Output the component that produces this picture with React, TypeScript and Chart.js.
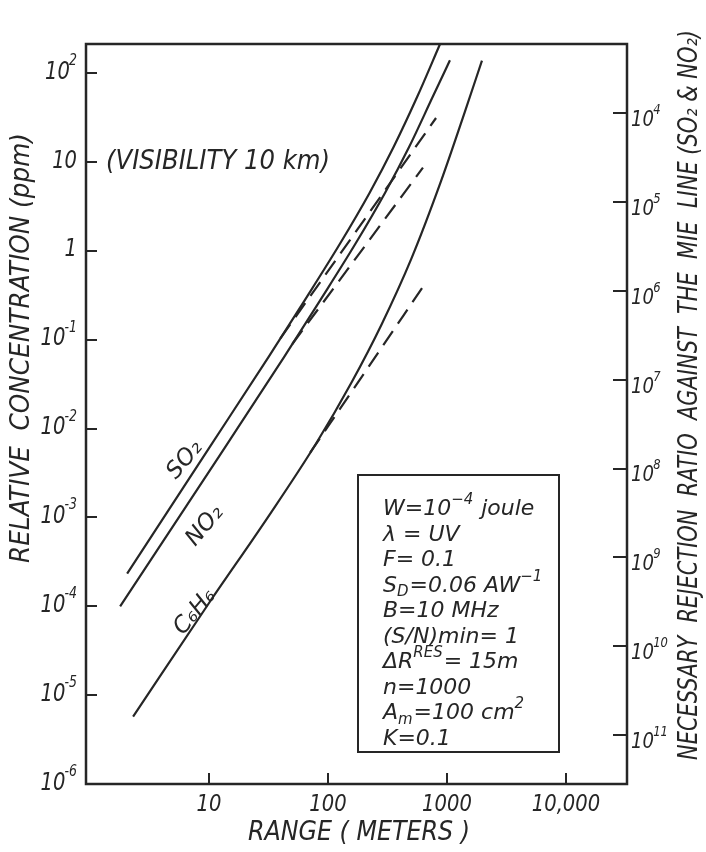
import React, { useEffect, useRef } from 'react';
import { Chart, registerables } from 'chart.js';

Chart.register(...registerables);

const INK = '#262626';
const FONT = '"DejaVu Sans", "Liberation Sans", sans-serif';

// ---- axis ticks ----
const X_TICKS = [10, 100, 1000, 10000];
const X_TICK_LABELS = ['10', '100', '1000', '10,000'];
const Y_TICKS = [1e-6, 1e-5, 1e-4, 1e-3, 1e-2, 1e-1, 1, 10, 100];
const Y_TICK_LABELS = ['10⁻⁶', '10⁻⁵', '10⁻⁴', '10⁻³', '10⁻²', '10⁻¹', '1', '10', '10²'];
const R_TICKS = [1e4, 1e5, 1e6, 1e7, 1e8, 1e9, 1e10, 1e11];
const R_TICK_LABELS = ['10⁴', '10⁵', '10⁶', '10⁷', '10⁸', '10⁹', '10¹⁰', '10¹¹'];

// ---- series (range in meters, relative concentration in ppm) ----
const SO2_RANGE = [2.05, 10, 31.6, 63.1, 126, 224, 355, 562, 871];
const SO2_CONC = [2.34e-4, 6.04e-3, 0.064, 0.273, 1.205, 4.53, 14.7, 54.4, 211];
const NO2_RANGE = [1.79, 13.5, 42.7, 85.1, 170, 302, 479, 759, 1059];
const NO2_CONC = [1.0e-4, 6.04e-3, 0.064, 0.273, 1.205, 4.53, 14.7, 54.4, 140];
const C6H6_RANGE = [2.3, 10, 31.6, 79.4, 158, 282, 501, 891, 1413, 1968];
const C6H6_CONC = [5.75e-6, 1.09e-4, 1.03e-3, 6.81e-3, 0.0333, 0.149, 0.815, 6.11, 36.8, 139];

// dashed (without Mie attenuation)
const SO2_DASH_RANGE = [39.8, 178, 809];
const SO2_DASH_CONC = [0.104, 1.77, 31.4];
const NO2_DASH_RANGE = [50.1, 178, 628];
const NO2_DASH_CONC = [0.0897, 0.887, 8.69];
const C6H6_DASH_RANGE = [70.8, 200, 631];
const C6H6_DASH_CONC = [5.37e-3, 0.0414, 0.4];

// right axis: rejection ratio = 10^K / concentration
const RATIO_K = 5.55;
const Y_MIN_EXP = -6;
const Y_MAX_EXP = 2.33;

type Seg = [string, number];
const BOX_LINES: Seg[][] = [
  [['W=10', 0], ['−4', 1], [' joule', 0]],
  [['λ = UV', 0]],
  [['F= 0.1', 0]],
  [['S', 0], ['D', -1], ['=0.06 AW', 0], ['−1', 1]],
  [['B=10 MHz', 0]],
  [['(S/N)min= 1', 0]],
  [['ΔR', 0], ['RES', 1], ['= 15m', 0]],
  [['n=1000', 0]],
  [['A', 0], ['m', -1], ['=100 cm', 0], ['2', 1]],
  [['K=0.1', 0]],
];

const SUP_MAP: Record<string, string> = {
  '⁰': '0', '¹': '1', '²': '2', '³': '3', '⁴': '4', '⁵': '5', '⁶': '6', '⁷': '7', '⁸': '8', '⁹': '9', '⁻': '-',
};

const pts = (xs: number[], ys: number[]) => xs.map((x, i) => ({ x, y: ys[i] }));

function drawFitted(ctx: CanvasRenderingContext2D, text: string, cx: number, cy: number, angle: number, size: number, target?: number) {
  ctx.save();
  ctx.translate(cx, cy);
  ctx.rotate((angle * Math.PI) / 180);
  ctx.font = `italic ${size}px ${FONT}`;
  const w = ctx.measureText(text).width;
  if (target) ctx.scale(target / w, 1);
  ctx.textAlign = 'center';
  ctx.textBaseline = 'middle';
  ctx.fillStyle = INK;
  ctx.fillText(text, 0, 0);
  ctx.restore();
}

function drawRich(ctx: CanvasRenderingContext2D, segs: Seg[], x: number, y: number, size: number) {
  let cx = x;
  ctx.textAlign = 'left';
  ctx.textBaseline = 'alphabetic';
  for (const [t, k] of segs) {
    const s = k === 0 ? size : size * 0.68;
    ctx.font = `italic ${s}px ${FONT}`;
    const dy = k === 1 ? -size * 0.48 : k === -1 ? size * 0.22 : 0;
    ctx.fillText(t, cx, y + dy);
    cx += ctx.measureText(t).width + (k === 0 ? 0 : 1);
  }
}

// tick label "10⁻³" -> base "10" + raised exponent
function drawTickLabel(ctx: CanvasRenderingContext2D, label: string, x: number, y: number, align: 'left' | 'right' | 'center', size: number, sx: number) {
  let base = '';
  let sup = '';
  for (const ch of label) {
    if (SUP_MAP[ch] !== undefined) sup += SUP_MAP[ch];
    else base += ch;
  }
  const ss = size * 0.64;
  ctx.font = `italic ${size}px ${FONT}`;
  const wb = ctx.measureText(base).width;
  ctx.font = `italic ${ss}px ${FONT}`;
  const ws = sup ? ctx.measureText(sup).width - 1 : 0;
  const total = (wb + ws) * sx;
  const x0 = align === 'left' ? x : align === 'right' ? x - total : x - total / 2;
  ctx.save();
  ctx.translate(x0, y);
  ctx.scale(sx, 1);
  ctx.textAlign = 'left';
  ctx.textBaseline = 'middle';
  ctx.fillStyle = INK;
  ctx.font = `italic ${size}px ${FONT}`;
  ctx.fillText(base, 0, 0);
  if (sup) {
    ctx.font = `italic ${ss}px ${FONT}`;
    ctx.fillText(sup, wb - 1, -size * 0.45);
  }
  ctx.restore();
}

const overlay = {
  id: 'overlay',
  afterDraw(chart: any) {
    const { ctx, chartArea: a, scales } = chart;
    ctx.save();
    ctx.strokeStyle = INK;
    ctx.lineWidth = 2.5;
    ctx.strokeRect(a.left, a.top, a.right - a.left, a.bottom - a.top);

    // tick labels from the library's ticks
    const sx = scales.x;
    sx.ticks.forEach((t: any) => {
      const i = X_TICKS.indexOf(t.value);
      if (i >= 0) drawTickLabel(ctx, X_TICK_LABELS[i], sx.getPixelForValue(t.value), a.bottom + 21, 'center', 23, 0.85);
    });
    const sy = scales.y;
    sy.ticks.forEach((t: any) => {
      const i = Y_TICKS.indexOf(t.value);
      if (i >= 0) drawTickLabel(ctx, Y_TICK_LABELS[i], a.left - 9, sy.getPixelForValue(t.value) - 1, 'right', 25, 0.78);
    });
    const sr = scales.y2;
    sr.ticks.forEach((t: any) => {
      const i = R_TICKS.indexOf(t.value);
      if (i >= 0) drawTickLabel(ctx, R_TICK_LABELS[i], a.right + 4, sr.getPixelForValue(t.value) + 7, 'left', 22, 0.82);
    });

    // parameter box
    ctx.lineWidth = 2;
    ctx.strokeRect(358, 475, 201, 277);
    ctx.fillStyle = INK;
    BOX_LINES.forEach((segs, i) => drawRich(ctx, segs, 383, 515 + i * 25.5, 22));

    // curve labels
    drawFitted(ctx, 'SO₂', 185, 460, -50, 23);
    drawFitted(ctx, 'NO₂', 205, 526, -50, 23);
    drawFitted(ctx, 'C₆H₆', 195, 612, -50, 23);

    drawFitted(ctx, '(VISIBILITY 10 km)', 218, 162, 0, 27, 224);

    // axis titles
    drawFitted(ctx, 'RELATIVE  CONCENTRATION (ppm)', 22, 348, -90, 27, 430);
    drawFitted(ctx, 'RANGE ( METERS )', 359, 833, 0, 27, 222);
    drawFitted(ctx, 'NECESSARY  REJECTION  RATIO  AGAINST  THE  MIE  LINE (SO₂ & NO₂)', 690, 395, -90, 26, 730);
    ctx.restore();
  },
};

export default function App() {
  const ref = useRef<HTMLCanvasElement>(null);
  useEffect(() => {
    const prev = document.body.style.margin;
    document.body.style.margin = '0';
    const canvas = ref.current!;
    const line = (xs: number[], ys: number[], dashed: boolean) => ({
      data: pts(xs, ys),
      yAxisID: 'y',
      borderColor: INK,
      borderWidth: 2.2,
      borderDash: dashed ? [17, 9] : [],
      pointRadius: 0,
      fill: false,
      cubicInterpolationMode: 'monotone' as const,
    });
    const gridCfg = (len: number) => ({
      display: true,
      drawOnChartArea: false,
      drawTicks: true,
      tickLength: -len,
      color: INK,
      lineWidth: 2,
    });
    const chart = new Chart(canvas, {
      type: 'line',
      data: {
        datasets: [
          line(SO2_RANGE, SO2_CONC, false),
          line(NO2_RANGE, NO2_CONC, false),
          line(C6H6_RANGE, C6H6_CONC, false),
          line(SO2_DASH_RANGE, SO2_DASH_CONC, true),
          line(NO2_DASH_RANGE, NO2_DASH_CONC, true),
          line(C6H6_DASH_RANGE, C6H6_DASH_CONC, true),
        ],
      },
      options: {
        animation: false,
        responsive: false,
        devicePixelRatio: 1,
        layout: { padding: { top: 44, left: 0, right: 0, bottom: 0 } },
        plugins: { legend: { display: false }, tooltip: { enabled: false } },
        scales: {
          x: {
            type: 'logarithmic',
            position: 'bottom',
            min: Math.pow(10, -0.034),
            max: Math.pow(10, 4.513),
            afterBuildTicks: (s: any) => { s.ticks = X_TICKS.map((v) => ({ value: v })); },
            afterFit: (s: any) => { s.height = 68; },
            ticks: { display: false, autoSkip: false },
            grid: gridCfg(11),
            border: { display: false },
          },
          y: {
            type: 'logarithmic',
            position: 'left',
            min: Math.pow(10, Y_MIN_EXP),
            max: Math.pow(10, Y_MAX_EXP),
            afterBuildTicks: (s: any) => { s.ticks = Y_TICKS.map((v) => ({ value: v })); },
            afterFit: (s: any) => { s.width = 86; },
            ticks: { display: false, autoSkip: false },
            grid: gridCfg(11),
            border: { display: false },
          },
          y2: {
            type: 'logarithmic',
            position: 'right',
            reverse: true,
            min: Math.pow(10, RATIO_K - Y_MAX_EXP),
            max: Math.pow(10, RATIO_K - Y_MIN_EXP),
            afterBuildTicks: (s: any) => { s.ticks = R_TICKS.map((v) => ({ value: v })); },
            afterFit: (s: any) => { s.width = 79; },
            ticks: { display: false, autoSkip: false },
            grid: gridCfg(14),
            border: { display: false },
          },
        },
      } as any,
      plugins: [overlay],
    });
    return () => {
      chart.destroy();
      document.body.style.margin = prev;
    };
  }, []);
  return (
    <div style={{ width: 706, height: 852 }}>
      <canvas ref={ref} width={706} height={852} style={{ display: 'block' }} />
    </div>
  );
}
